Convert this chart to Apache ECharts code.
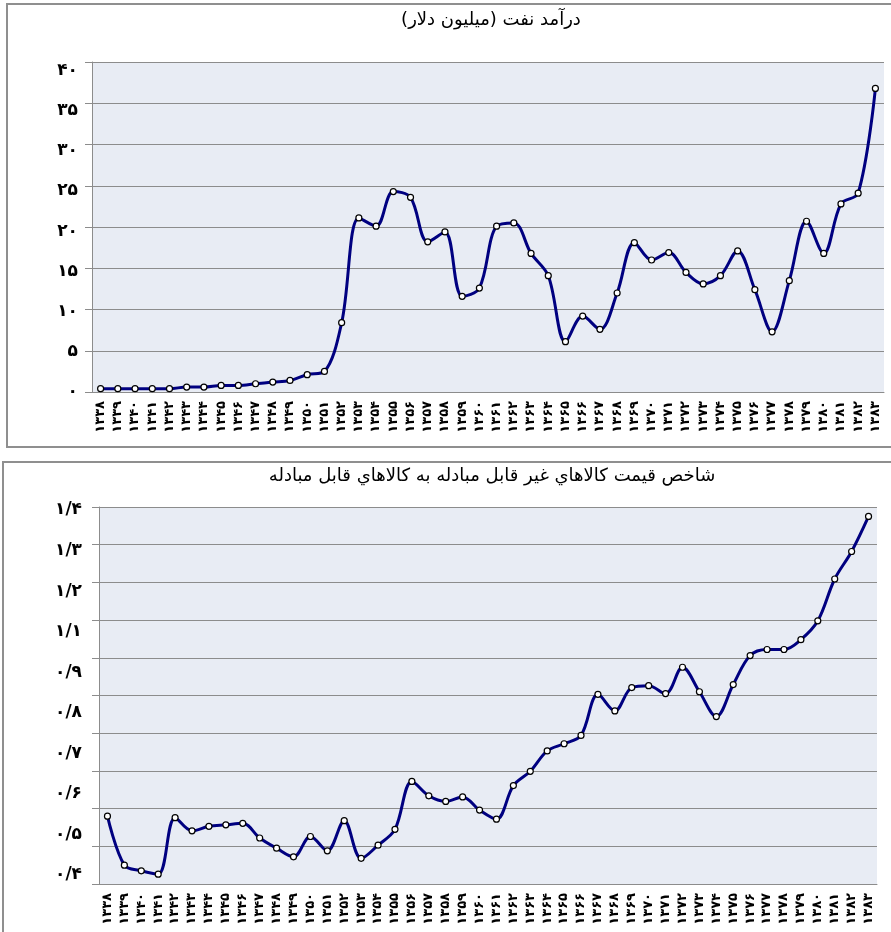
<!DOCTYPE html>
<html>
<head>
<meta charset="utf-8">
<script src="https://cdn.jsdelivr.net/npm/echarts@6/dist/echarts.min.js"></script>
<style>
  html, body { margin: 0; padding: 0; background: #fff; }
  #main { width: 891px; height: 932px; }
</style>
</head>
<body>
<div id="main"></div>
<script>
// years 1338..1383 (Persian digits)
var years = ['۱۳۳۸','۱۳۳۹','۱۳۴۰','۱۳۴۱','۱۳۴۲','۱۳۴۳','۱۳۴۴','۱۳۴۵','۱۳۴۶','۱۳۴۷',
             '۱۳۴۸','۱۳۴۹','۱۳۵۰','۱۳۵۱','۱۳۵۲','۱۳۵۳','۱۳۵۴','۱۳۵۵','۱۳۵۶','۱۳۵۷',
             '۱۳۵۸','۱۳۵۹','۱۳۶۰','۱۳۶۱','۱۳۶۲','۱۳۶۳','۱۳۶۴','۱۳۶۵','۱۳۶۶','۱۳۶۷',
             '۱۳۶۸','۱۳۶۹','۱۳۷۰','۱۳۷۱','۱۳۷۲','۱۳۷۳','۱۳۷۴','۱۳۷۵','۱۳۷۶','۱۳۷۷',
             '۱۳۷۸','۱۳۷۹','۱۳۸۰','۱۳۸۱','۱۳۸۲','۱۳۸۳'];

// oil revenue (million dollars)
var oilRevenue = [0.4, 0.4, 0.4, 0.4, 0.4, 0.6, 0.6, 0.8, 0.8, 1.0,
                  1.2, 1.4, 2.1, 2.5, 8.4, 21.1, 20.1, 24.3, 23.6, 18.2,
                  19.4, 11.6, 12.6, 20.1, 20.5, 16.8, 14.1, 6.1, 9.2, 7.6,
                  12.0, 18.1, 16.0, 16.9, 14.5, 13.1, 14.1, 17.1, 12.4, 7.3,
                  13.5, 20.7, 16.8, 22.8, 24.1, 36.8];

// price index non-tradable / tradable
var priceIndex = [0.58, 0.45, 0.435, 0.426, 0.576, 0.541, 0.553, 0.557, 0.561, 0.522,
                  0.495, 0.472, 0.526, 0.488, 0.568, 0.468, 0.503, 0.545, 0.672, 0.634,
                  0.619, 0.631, 0.596, 0.572, 0.661, 0.699, 0.753, 0.772, 0.794, 0.903,
                  0.859, 0.921, 0.926, 0.905, 0.975, 0.91, 0.844, 0.929, 1.006, 1.022,
                  1.022, 1.048, 1.098, 1.209, 1.282, 1.375];

// y tick labels, bottom to top
var oilTicks = ['۰','۵','۱۰','۱۵','۲۰','۲۵','۳۰','۳۵','۴۰'];
var indexTicks = ['۰/۴','۰/۵','۰/۶','۰/۷','۰/۸','۰/۹','۱/۱','۱/۲','۱/۳','۱/۴'];

var titleTop = '\u200Fدرآمد نفت (میلیون دلار)\u200F';
var titleBottom = '\u200Fشاخص قيمت كالاهاي غير قابل مبادله به كالاهاي قابل مبادله\u200F';

var FONT = 'DejaVu Sans, Arial, sans-serif';
var gridColor = '#8c8c8c';

function plotX(gridIndex) {
  return {
    type: 'category', gridIndex: gridIndex, data: years, boundaryGap: true,
    axisLine: { lineStyle: { color: gridColor, width: 1 } },
    axisTick: { interval: 0, length: 5, lineStyle: { color: gridColor } },
    axisLabel: { interval: 0, rotate: 90, margin: 9, color: '#000', fontSize: 13,
                 fontWeight: 'bold', fontFamily: FONT }
  };
}
function plotY(gridIndex, min, max, step) {
  return {
    type: 'value', gridIndex: gridIndex, min: min, max: max, interval: step,
    axisLine: { show: true, lineStyle: { color: gridColor } },
    axisTick: { show: true, length: 7, lineStyle: { color: gridColor } },
    axisLabel: { show: false },
    splitLine: { lineStyle: { color: gridColor, width: 1 } }
  };
}
function labelX(gridIndex) {
  return { type: 'value', gridIndex: gridIndex, show: false };
}
function labelY(gridIndex, ticks, margin) {
  return {
    type: 'category', gridIndex: gridIndex, data: ticks, boundaryGap: false,
    axisLine: { show: false }, axisTick: { show: false }, splitLine: { show: false },
    axisLabel: { interval: 0, margin: margin, color: '#000', fontSize: 17,
                 fontWeight: 'bold', fontFamily: FONT }
  };
}
function lineSeries(xi, yi, data) {
  return {
    type: 'line', xAxisIndex: xi, yAxisIndex: yi, data: data,
    smooth: 0.35, showAllSymbol: true,
    symbol: 'circle', symbolSize: 6,
    lineStyle: { color: '#000080', width: 3 },
    itemStyle: { color: '#fff', borderColor: '#000', borderWidth: 1.2 },
    emphasis: { disabled: true }
  };
}

var chart = echarts.init(document.getElementById('main'));
chart.setOption({
  backgroundColor: '#fff',
  animation: false,
  grid: [
    { left: 92, top: 62, width: 792, height: 330, show: true, backgroundColor: '#e8ecf4', borderWidth: 0 },
    { left: 99, top: 507, width: 778, height: 377, show: true, backgroundColor: '#e8ecf4', borderWidth: 0 },
    { left: 92, top: 70.7, width: 1, height: 321 },
    { left: 99, top: 510, width: 1, height: 365 }
  ],
  xAxis: [plotX(0), plotX(1), labelX(2), labelX(3)],
  yAxis: [plotY(0, 0, 40, 5), plotY(1, 0.4, 1.4, 0.1),
          labelY(2, oilTicks, 14), labelY(3, indexTicks, 17)],
  series: [lineSeries(0, 0, oilRevenue), lineSeries(1, 1, priceIndex)],
  graphic: [
    { type: 'rect', silent: true, shape: { x: 7, y: 4, width: 900, height: 443 },
      style: { fill: 'none', stroke: '#8f8f8f', lineWidth: 2 } },
    { type: 'rect', silent: true, shape: { x: 3, y: 462, width: 900, height: 500 },
      style: { fill: 'none', stroke: '#8f8f8f', lineWidth: 2 } },
    { type: 'text', silent: true, x: 491, y: 20,
      style: { text: titleTop, fill: '#000', fontSize: 18, fontFamily: FONT,
               align: 'center', verticalAlign: 'middle' } },
    { type: 'text', silent: true, x: 492, y: 476,
      style: { text: titleBottom, fill: '#000', fontSize: 18, fontFamily: FONT,
               align: 'center', verticalAlign: 'middle' } }
  ]
});
</script>
</body>
</html>
